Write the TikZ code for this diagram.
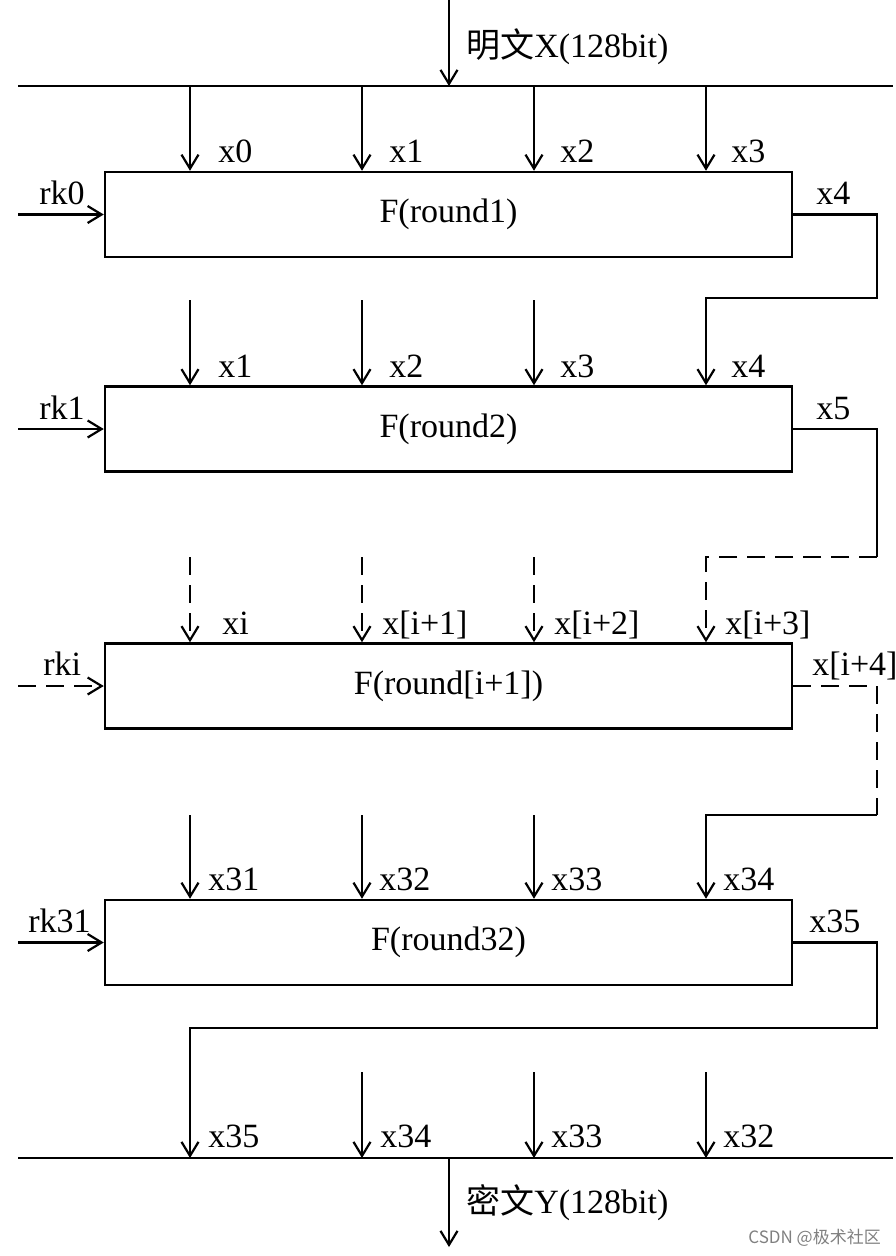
\documentclass[tikz,border=0pt]{standalone}
\usepackage{fontspec}
\setmainfont{Liberation Serif}
\newfontfamily\cjk{Noto Sans CJK SC}
\usetikzlibrary{arrows.meta}
\begin{document}
\begin{tikzpicture}[x=1pt,y=-1pt,
  line width=2.5pt,
  arr/.style={-{Straight Barb[length=14pt,width=17pt,line width=2.2pt]}},
  dsh/.style={dash pattern=on 18pt off 10pt},
  fbox/.style={draw,minimum width=687pt,minimum height=85pt,inner sep=0pt,font=\fontsize{34}{40}\selectfont},
  lbl/.style={anchor=base west,inner sep=0pt,font=\fontsize{34}{40}\selectfont},
  wm/.style={anchor=base east,inner sep=0pt,text=gray,font=\cjk\fontsize{17}{20}\selectfont}]
\useasboundingbox (0,0) rectangle (896,1256);

% columns and guide coordinates
\coordinate (c1) at (190,0);
\coordinate (c2) at (362,0);
\coordinate (c3) at (534,0);
\coordinate (c4) at (706,0);
\coordinate (rx) at (877,0);
\coordinate (lx) at (18,0);
\coordinate (m1) at (0,298);
\coordinate (m2) at (0,557);
\coordinate (m3) at (0,815);
\coordinate (m4) at (0,1028);
\coordinate (s4) at (0,1072);

% buses
\coordinate (inTop) at (449,0);
\coordinate (busT) at (449,86);
\coordinate (busTL) at (18,86);
\coordinate (busTR) at (893,86);
\coordinate (busB) at (449,1158);
\coordinate (busBL) at (18,1158);
\coordinate (busBR) at (893,1158);
\coordinate (outB) at (449,1247);

% round boxes
\node[fbox] (r1) at (448.5,214.5) {F(round1)};
\node[fbox] (r2) at (448.5,429) {F(round2)};
\node[fbox] (r3) at (448.5,686) {F(round[i+1])};
\node[fbox] (r4) at (448.5,942.5) {F(round32)};

% input
\draw[arr] (inTop) -- (busT);
\draw (busTL) -- (busTR);
\node[lbl] (tin) at (465,57) {{\cjk 明文}X(128bit)};

% bus -> round 1
\foreach \c in {c1,c2,c3,c4} \draw[arr] (busTL -| \c) -- (r1.north -| \c);
\node[lbl] at (217,162) {x0};
\node[lbl] at (388,162) {x1};
\node[lbl] at (559,162) {x2};
\node[lbl] at (730,162) {x3};
\draw[arr] (r1.west -| lx) -- (r1.west);
\node[lbl] at (38,204) {rk0};
\node[lbl] at (815,204) {x4};

% round 1 -> round 2
\foreach \c in {c1,c2,c3} \draw[arr] (m1 -| \c) ++(0,2) -- (r2.north -| \c);
\draw[arr] (r1.east) -- (r1.east -| rx) -- (rx |- m1) -- (m1 -| c4) -- (r2.north -| c4);
\node[lbl] at (217,377) {x1};
\node[lbl] at (388,377) {x2};
\node[lbl] at (559,377) {x3};
\node[lbl] at (730,377) {x4};
\draw[arr] (r2.west -| lx) -- (r2.west);
\node[lbl] at (38,419) {rk1};
\node[lbl] at (815,419) {x5};

% round 2 -> round i+1 (dashed)
\foreach \c in {c1,c2,c3} \draw[arr,dsh] (m2 -| \c) -- (r3.north -| \c);
\draw (r2.east) -- (r2.east -| rx) -- (rx |- m2);
\draw[arr,dsh] (rx |- m2) -- (m2 -| c4) -- (r3.north -| c4);
\node[lbl] at (221,634) {xi};
\node[lbl] at (381,634) {x[i+1]};
\node[lbl] at (553,634) {x[i+2]};
\node[lbl] at (724,634) {x[i+3]};
\draw[arr,dsh] (r3.west -| lx) -- (r3.west);
\node[lbl] at (42,675) {rki};
\node[lbl] at (811,675) {x[i+4]};

% round i+1 -> round 32
\draw[dsh] (r3.east) -- (r3.east -| rx) -- (rx |- m3);
\draw[arr] (rx |- m3) -- (m3 -| c4) -- (r4.north -| c4);
\foreach \c in {c1,c2,c3} \draw[arr] (m3 -| \c) -- (r4.north -| \c);
\node[lbl] at (207,890) {x31};
\node[lbl] at (378,890) {x32};
\node[lbl] at (550,890) {x33};
\node[lbl] at (722,890) {x34};
\draw[arr] (r4.west -| lx) -- (r4.west);
\node[lbl] at (27,932) {rk31};
\node[lbl] at (808,932) {x35};

% round 32 -> output bus
\draw[arr] (r4.east) -- (r4.east -| rx) -- (rx |- m4) -- (m4 -| c1) -- (busBL -| c1);
\foreach \c in {c2,c3,c4} \draw[arr] (s4 -| \c) -- (busBL -| \c);
\node[lbl] at (207,1147) {x35};
\node[lbl] at (379,1147) {x34};
\node[lbl] at (550,1147) {x33};
\node[lbl] at (722,1147) {x32};
\draw (busBL) -- (busBR);
\draw[arr] (busB) -- (outB);
\node[lbl] (tout) at (465,1213) {{\cjk 密文}Y(128bit)};

\node[wm] (wmk) at (882,1243) {CSDN @极术社区};
\end{tikzpicture}
\end{document}
